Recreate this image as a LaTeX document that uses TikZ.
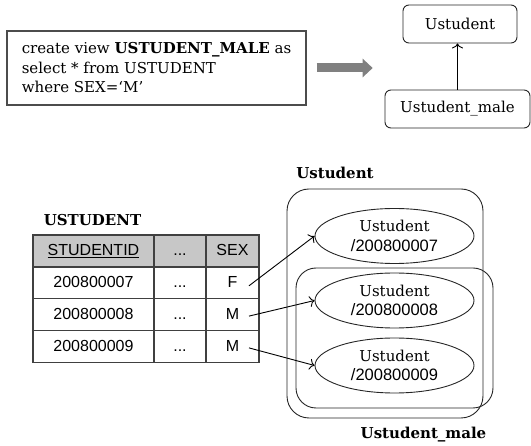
\documentclass[tikz,border=0pt]{standalone}
\usepackage{fontspec}
\setmainfont{DejaVu Serif}
\setsansfont{Liberation Sans}
\usetikzlibrary{shapes.geometric, arrows.meta}
\tikzstyle{sqlbox} = [rectangle, draw=black!70, line width=1.4pt, minimum width=299pt, minimum height=74pt, align=left, inner xsep=13pt]
\tikzstyle{classbox} = [rectangle, rounded corners=6pt, draw=black!85, line width=0.9pt, minimum height=38pt]
\tikzstyle{cell} = [rectangle, draw=black!75, line width=1.3pt, outer sep=0pt, minimum height=31.8pt, text height=11.5pt, text depth=2pt, font=\sffamily\fontsize{16}{18}\selectfont]
\tikzstyle{headcell} = [cell, fill=black!22]
\tikzstyle{setbox} = [rectangle, draw=black!85, line width=0.9pt]
\tikzstyle{obj} = [ellipse, draw=black!85, line width=0.9pt, minimum width=159pt, minimum height=55pt, inner sep=0pt, align=center]
\tikzstyle{title} = [font=\bfseries\fontsize{15}{18}\selectfont]
\tikzstyle{arrow} = [line width=0.9pt, -{To[length=5pt,width=11pt]}]
\tikzstyle{bigarrow} = [draw=black!50, line width=9pt, -{Triangle[length=10pt,width=18pt]}]

\begin{document}
\begin{tikzpicture}[x=1pt, y=-1pt, font=\fontsize{15}{19.5}\selectfont]
        \useasboundingbox (0,0) rectangle (531,446);

        % view definition and the class pair
        \node (sql) [sqlbox] at (156.5,68) {create view \textbf{USTUDENT\_MALE} as\\select * from USTUDENT\\where SEX=`M'};
        \node (top) [classbox, minimum width=114pt] at (460,24) {Ustudent};
        \node (male) [classbox, minimum width=145pt] at (457.5,109) {Ustudent\_male};
        \draw [bigarrow] ([xshift=10pt]sql.east) -- ([xshift=66pt]sql.east);
        \draw [arrow] (male.north) -- (male.north |- top.south);

        % table
        \node (tname) [title] at (92.5,220) {USTUDENT};
        \node (h1) [headcell, minimum width=121pt] at (93.5,251) {\underline{STUDENTID}};
        \node (h2) [headcell, minimum width=52pt] at (180,251) {...};
        \node (h3) [headcell, minimum width=53pt] at (232.5,251) {SEX};
        \foreach \n/\id/\sx in {1/200800007/F, 2/200800008/M, 3/200800009/M} {
            \node (a\n) [cell, minimum width=121pt] at (93.5,{251+31.8*\n}) {\id};
            \node (b\n) [cell, minimum width=52pt] at (180,{251+31.8*\n}) {...};
            \node (s\n) [cell, minimum width=53pt] at (232.5,{251+31.8*\n}) {\sx};
        }

        % object sets
        \node (allset) [setbox, rounded corners=22pt, minimum width=196pt, minimum height=229pt] at (385,303.5) {};
        \node (maleset) [setbox, rounded corners=20pt, minimum width=197pt, minimum height=140pt] at (394.5,338) {};
        \node (allname) [title] at (335,173) {Ustudent};
        \node (malename) [title] at (423.5,435) {Ustudent\_male};
        \node (o1) [obj] at (394.5,236) {Ustudent\\{\sffamily\fontsize{16.5}{19.5}\selectfont /200800007}};
        \node (o2) [obj] at (394.5,300.5) {Ustudent\\{\sffamily\fontsize{16.5}{19.5}\selectfont /200800008}};
        \node (o3) [obj] at (394.5,365.5) {Ustudent\\{\sffamily\fontsize{16.5}{19.5}\selectfont /200800009}};

        \draw [arrow] ([xshift=-10pt,yshift=-3pt]s1.east) -- (o1.west);
        \draw [arrow] ([xshift=-10pt,yshift=-1.5pt]s2.east) -- (o2.west);
        \draw [arrow] ([xshift=-10pt,yshift=-1.5pt]s3.east) -- (o3.west);
\end{tikzpicture}
\end{document}
